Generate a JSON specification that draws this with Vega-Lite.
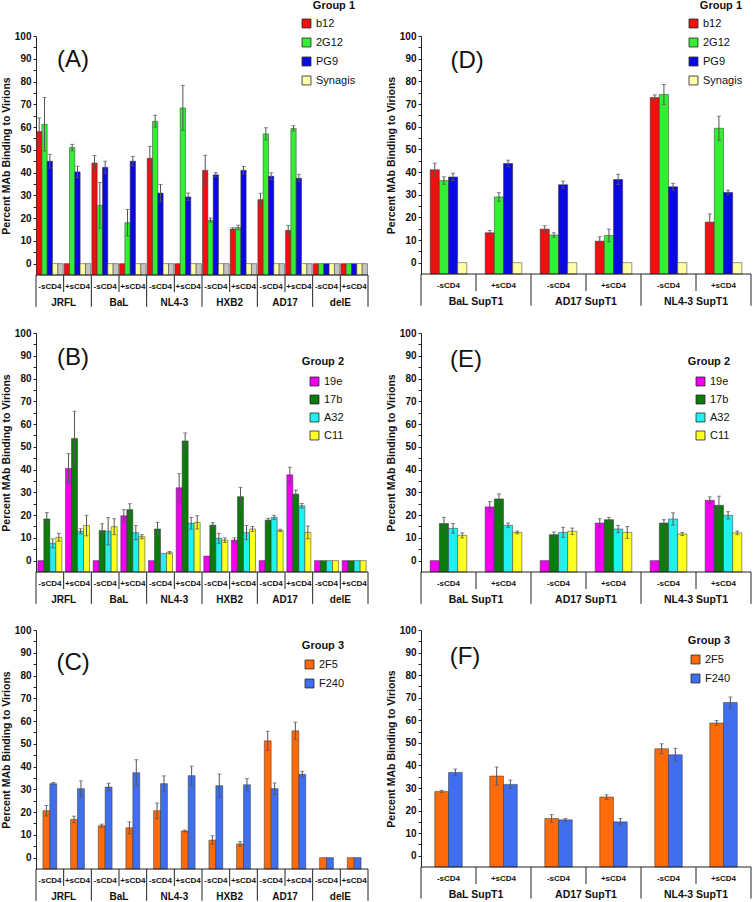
{
"$schema":"https://vega.github.io/schema/vega-lite/v6.json",
"padding":{"left":1,"top":0,"right":0,"bottom":0},
"config":{"font":"Liberation Sans","view":{"stroke":null},
 "axisY":{"grid":false,"tickSize":3,"tickColor":"#222","domainColor":"#222","labelFontWeight":"bold","labelFontSize":10,"labelColor":"#111","labelOverlap":false,"titleFontSize":10.5,"titleFontWeight":"bold","titleColor":"#111","titlePadding":3,"labelPadding":2},
 "legend":{"titleFontSize":11,"titleFontWeight":"bold","titleColor":"#111","labelFontSize":11,"labelColor":"#111","symbolType":"square","symbolSize":80,"symbolStrokeColor":"#222","symbolStrokeWidth":0.8,"labelOffset":4,"padding":0,"titleAnchor":"end"}
},
"datasets":{
"L":[{"k":"JRFL/-sCD4","s":"JRFL","c":"-sCD4"},{"k":"JRFL/+sCD4","s":"JRFL","c":"+sCD4"},{"k":"BaL/-sCD4","s":"BaL","c":"-sCD4"},{"k":"BaL/+sCD4","s":"BaL","c":"+sCD4"},{"k":"NL4-3/-sCD4","s":"NL4-3","c":"-sCD4"},{"k":"NL4-3/+sCD4","s":"NL4-3","c":"+sCD4"},{"k":"HXB2/-sCD4","s":"HXB2","c":"-sCD4"},{"k":"HXB2/+sCD4","s":"HXB2","c":"+sCD4"},{"k":"AD17/-sCD4","s":"AD17","c":"-sCD4"},{"k":"AD17/+sCD4","s":"AD17","c":"+sCD4"},{"k":"delE/-sCD4","s":"delE","c":"-sCD4"},{"k":"delE/+sCD4","s":"delE","c":"+sCD4"}],
"R":[{"k":"BaL SupT1/-sCD4","s":"BaL SupT1","c":"-sCD4"},{"k":"BaL SupT1/+sCD4","s":"BaL SupT1","c":"+sCD4"},{"k":"AD17 SupT1/-sCD4","s":"AD17 SupT1","c":"-sCD4"},{"k":"AD17 SupT1/+sCD4","s":"AD17 SupT1","c":"+sCD4"},{"k":"NL4-3 SupT1/-sCD4","s":"NL4-3 SupT1","c":"-sCD4"},{"k":"NL4-3 SupT1/+sCD4","s":"NL4-3 SupT1","c":"+sCD4"}],
"A":[
{"k":"JRFL/-sCD4","ab":"b12","v":58,"lo":52,"hi":64},{"k":"JRFL/-sCD4","ab":"2G12","v":61.2,"lo":49.5,"hi":73},{"k":"JRFL/-sCD4","ab":"PG9","v":45,"lo":42,"hi":48},{"k":"JRFL/-sCD4","ab":"Synagis","v":0},{"k":"JRFL/-sCD4","ab":"ctrl","v":0},
{"k":"JRFL/+sCD4","ab":"b12","v":0},{"k":"JRFL/+sCD4","ab":"2G12","v":51,"lo":49.6,"hi":52.4},{"k":"JRFL/+sCD4","ab":"PG9","v":40.3,"lo":37.8,"hi":42.8},{"k":"JRFL/+sCD4","ab":"Synagis","v":0},{"k":"JRFL/+sCD4","ab":"ctrl","v":0},
{"k":"BaL/-sCD4","ab":"b12","v":44.2,"lo":41,"hi":47.5},{"k":"BaL/-sCD4","ab":"2G12","v":25.6,"lo":15.6,"hi":35.6},{"k":"BaL/-sCD4","ab":"PG9","v":42.3,"lo":39.6,"hi":45},{"k":"BaL/-sCD4","ab":"Synagis","v":0},{"k":"BaL/-sCD4","ab":"ctrl","v":0},
{"k":"BaL/+sCD4","ab":"b12","v":0},{"k":"BaL/+sCD4","ab":"2G12","v":18,"lo":12.2,"hi":23.8},{"k":"BaL/+sCD4","ab":"PG9","v":45,"lo":43,"hi":47.1},{"k":"BaL/+sCD4","ab":"Synagis","v":0},{"k":"BaL/+sCD4","ab":"ctrl","v":0},
{"k":"NL4-3/-sCD4","ab":"b12","v":46.3,"lo":41,"hi":51.5},{"k":"NL4-3/-sCD4","ab":"2G12","v":62.5,"lo":60,"hi":65.2},{"k":"NL4-3/-sCD4","ab":"PG9","v":31,"lo":27.2,"hi":34.8},{"k":"NL4-3/-sCD4","ab":"Synagis","v":0},{"k":"NL4-3/-sCD4","ab":"ctrl","v":0},
{"k":"NL4-3/+sCD4","ab":"b12","v":0},{"k":"NL4-3/+sCD4","ab":"2G12","v":68.4,"lo":58.5,"hi":78.3},{"k":"NL4-3/+sCD4","ab":"PG9","v":29.3,"lo":27.8,"hi":31},{"k":"NL4-3/+sCD4","ab":"Synagis","v":0},{"k":"NL4-3/+sCD4","ab":"ctrl","v":0},
{"k":"HXB2/-sCD4","ab":"b12","v":41,"lo":34.5,"hi":47.6},{"k":"HXB2/-sCD4","ab":"2G12","v":19,"lo":18.2,"hi":20},{"k":"HXB2/-sCD4","ab":"PG9","v":39,"lo":38.1,"hi":40},{"k":"HXB2/-sCD4","ab":"Synagis","v":0},{"k":"HXB2/-sCD4","ab":"ctrl","v":0},
{"k":"HXB2/+sCD4","ab":"b12","v":15.2,"lo":14.8,"hi":15.8},{"k":"HXB2/+sCD4","ab":"2G12","v":15.8,"lo":14.8,"hi":16.9},{"k":"HXB2/+sCD4","ab":"PG9","v":41,"lo":39.3,"hi":42.7},{"k":"HXB2/+sCD4","ab":"Synagis","v":0},{"k":"HXB2/+sCD4","ab":"ctrl","v":0},
{"k":"AD17/-sCD4","ab":"b12","v":28.1,"lo":25.3,"hi":30.9},{"k":"AD17/-sCD4","ab":"2G12","v":57,"lo":54.3,"hi":59.7},{"k":"AD17/-sCD4","ab":"PG9","v":38.4,"lo":37,"hi":39.9},{"k":"AD17/-sCD4","ab":"Synagis","v":0},{"k":"AD17/-sCD4","ab":"ctrl","v":0},
{"k":"AD17/+sCD4","ab":"b12","v":14.6,"lo":12.4,"hi":16.8},{"k":"AD17/+sCD4","ab":"2G12","v":59.4,"lo":58.3,"hi":60.6},{"k":"AD17/+sCD4","ab":"PG9","v":37.5,"lo":36,"hi":39.2},{"k":"AD17/+sCD4","ab":"Synagis","v":0},{"k":"AD17/+sCD4","ab":"ctrl","v":0},
{"k":"delE/-sCD4","ab":"b12","v":0},{"k":"delE/-sCD4","ab":"2G12","v":0},{"k":"delE/-sCD4","ab":"PG9","v":0},{"k":"delE/-sCD4","ab":"Synagis","v":0},{"k":"delE/-sCD4","ab":"ctrl","v":0},
{"k":"delE/+sCD4","ab":"b12","v":0},{"k":"delE/+sCD4","ab":"2G12","v":0},{"k":"delE/+sCD4","ab":"PG9","v":0},{"k":"delE/+sCD4","ab":"Synagis","v":0},{"k":"delE/+sCD4","ab":"ctrl","v":0}],
"B":[
{"k":"JRFL/-sCD4","ab":"19e","v":0},{"k":"JRFL/-sCD4","ab":"17b","v":18.3,"lo":15.5,"hi":21.1},{"k":"JRFL/-sCD4","ab":"A32","v":7.6,"lo":5.6,"hi":9.6},{"k":"JRFL/-sCD4","ab":"C11","v":10.2,"lo":8.5,"hi":12},
{"k":"JRFL/+sCD4","ab":"19e","v":40.5,"lo":34,"hi":47},{"k":"JRFL/+sCD4","ab":"17b","v":53.7,"lo":41.8,"hi":65.6},{"k":"JRFL/+sCD4","ab":"A32","v":12.9,"lo":11.8,"hi":14},{"k":"JRFL/+sCD4","ab":"C11","v":15.4,"lo":10.9,"hi":19.9},
{"k":"BaL/-sCD4","ab":"19e","v":0},{"k":"BaL/-sCD4","ab":"17b","v":13.2,"lo":10.2,"hi":16.2},{"k":"BaL/-sCD4","ab":"A32","v":12.9,"lo":6.9,"hi":18.9},{"k":"BaL/-sCD4","ab":"C11","v":14.9,"lo":11.4,"hi":18.4},
{"k":"BaL/+sCD4","ab":"19e","v":19.7,"lo":17,"hi":22.4},{"k":"BaL/+sCD4","ab":"17b","v":22.4,"lo":19.8,"hi":25},{"k":"BaL/+sCD4","ab":"A32","v":12.3,"lo":9.2,"hi":15.4},{"k":"BaL/+sCD4","ab":"C11","v":10.5,"lo":9.6,"hi":11.4},
{"k":"NL4-3/-sCD4","ab":"19e","v":0},{"k":"NL4-3/-sCD4","ab":"17b","v":13.9,"lo":11,"hi":16.8},{"k":"NL4-3/-sCD4","ab":"A32","v":3.2},{"k":"NL4-3/-sCD4","ab":"C11","v":3.5,"lo":3,"hi":4},
{"k":"NL4-3/+sCD4","ab":"19e","v":32,"lo":25.8,"hi":38.2},{"k":"NL4-3/+sCD4","ab":"17b","v":52.6,"lo":49.1,"hi":56.1},{"k":"NL4-3/+sCD4","ab":"A32","v":16.4,"lo":13.8,"hi":19},{"k":"NL4-3/+sCD4","ab":"C11","v":16.8,"lo":13.9,"hi":19.7},
{"k":"HXB2/-sCD4","ab":"19e","v":2},{"k":"HXB2/-sCD4","ab":"17b","v":15.6,"lo":14.5,"hi":16.7},{"k":"HXB2/-sCD4","ab":"A32","v":9.8,"lo":7.6,"hi":12},{"k":"HXB2/-sCD4","ab":"C11","v":9,"lo":8,"hi":10},
{"k":"HXB2/+sCD4","ab":"19e","v":9,"lo":8,"hi":10},{"k":"HXB2/+sCD4","ab":"17b","v":28.1,"lo":24,"hi":32.2},{"k":"HXB2/+sCD4","ab":"A32","v":12.3,"lo":9.2,"hi":15.4},{"k":"HXB2/+sCD4","ab":"C11","v":13.9,"lo":12.8,"hi":15},
{"k":"AD17/-sCD4","ab":"19e","v":0},{"k":"AD17/-sCD4","ab":"17b","v":17.8,"lo":17,"hi":18.6},{"k":"AD17/-sCD4","ab":"A32","v":19,"lo":18.1,"hi":19.9},{"k":"AD17/-sCD4","ab":"C11","v":13.3,"lo":12.8,"hi":13.8},
{"k":"AD17/+sCD4","ab":"19e","v":37.7,"lo":34.4,"hi":41},{"k":"AD17/+sCD4","ab":"17b","v":29.2,"lo":27.5,"hi":31},{"k":"AD17/+sCD4","ab":"A32","v":24.1,"lo":23.1,"hi":25.1},{"k":"AD17/+sCD4","ab":"C11","v":12.4,"lo":9.6,"hi":15.2},
{"k":"delE/-sCD4","ab":"19e","v":0},{"k":"delE/-sCD4","ab":"17b","v":0},{"k":"delE/-sCD4","ab":"A32","v":0},{"k":"delE/-sCD4","ab":"C11","v":0},
{"k":"delE/+sCD4","ab":"19e","v":0},{"k":"delE/+sCD4","ab":"17b","v":0},{"k":"delE/+sCD4","ab":"A32","v":0},{"k":"delE/+sCD4","ab":"C11","v":0}],
"C":[
{"k":"JRFL/-sCD4","ab":"2F5","v":20.6,"lo":18.3,"hi":22.9},{"k":"JRFL/-sCD4","ab":"F240","v":32.5,"lo":32.1,"hi":33},
{"k":"JRFL/+sCD4","ab":"2F5","v":16.8,"lo":15.4,"hi":18.2},{"k":"JRFL/+sCD4","ab":"F240","v":30.3,"lo":27,"hi":33.7},
{"k":"BaL/-sCD4","ab":"2F5","v":14,"lo":13.3,"hi":14.7},{"k":"BaL/-sCD4","ab":"F240","v":31,"lo":29.4,"hi":32.7},
{"k":"BaL/+sCD4","ab":"2F5","v":13.1,"lo":10.5,"hi":15.7},{"k":"BaL/+sCD4","ab":"F240","v":37.3,"lo":31.6,"hi":43},
{"k":"NL4-3/-sCD4","ab":"2F5","v":20.6,"lo":17.1,"hi":24},{"k":"NL4-3/-sCD4","ab":"F240","v":32.5,"lo":29.1,"hi":35.9},
{"k":"NL4-3/+sCD4","ab":"2F5","v":11.7,"lo":11.3,"hi":12.1},{"k":"NL4-3/+sCD4","ab":"F240","v":36,"lo":31.8,"hi":40.2},
{"k":"HXB2/-sCD4","ab":"2F5","v":7.7,"lo":5.8,"hi":9.6},{"k":"HXB2/-sCD4","ab":"F240","v":31.6,"lo":26.5,"hi":36.7},
{"k":"HXB2/+sCD4","ab":"2F5","v":6,"lo":5,"hi":7},{"k":"HXB2/+sCD4","ab":"F240","v":32,"lo":29.3,"hi":34.7},
{"k":"AD17/-sCD4","ab":"2F5","v":51.3,"lo":47.1,"hi":55.5},{"k":"AD17/-sCD4","ab":"F240","v":30.3,"lo":27.8,"hi":32.8},
{"k":"AD17/+sCD4","ab":"2F5","v":55.7,"lo":51.9,"hi":59.5},{"k":"AD17/+sCD4","ab":"F240","v":36.6,"lo":35.3,"hi":37.9},
{"k":"delE/-sCD4","ab":"2F5","v":0},{"k":"delE/-sCD4","ab":"F240","v":0},
{"k":"delE/+sCD4","ab":"2F5","v":0},{"k":"delE/+sCD4","ab":"F240","v":0}],
"D":[
{"k":"BaL SupT1/-sCD4","ab":"b12","v":41,"lo":38.2,"hi":43.9},{"k":"BaL SupT1/-sCD4","ab":"2G12","v":36.2,"lo":34.6,"hi":37.9},{"k":"BaL SupT1/-sCD4","ab":"PG9","v":37.8,"lo":36.2,"hi":39.4},{"k":"BaL SupT1/-sCD4","ab":"Synagis","v":0},
{"k":"BaL SupT1/+sCD4","ab":"b12","v":13.2,"lo":12.2,"hi":14.2},{"k":"BaL SupT1/+sCD4","ab":"2G12","v":29,"lo":27.1,"hi":30.9},{"k":"BaL SupT1/+sCD4","ab":"PG9","v":43.8,"lo":42.4,"hi":45.2},{"k":"BaL SupT1/+sCD4","ab":"Synagis","v":0},
{"k":"AD17 SupT1/-sCD4","ab":"b12","v":14.8,"lo":13.3,"hi":16.3},{"k":"AD17 SupT1/-sCD4","ab":"2G12","v":12.2,"lo":11.2,"hi":13.2},{"k":"AD17 SupT1/-sCD4","ab":"PG9","v":34.4,"lo":32.8,"hi":36},{"k":"AD17 SupT1/-sCD4","ab":"Synagis","v":0},
{"k":"AD17 SupT1/+sCD4","ab":"b12","v":9.5,"lo":7.6,"hi":11.4},{"k":"AD17 SupT1/+sCD4","ab":"2G12","v":12,"lo":9.2,"hi":14.8},{"k":"AD17 SupT1/+sCD4","ab":"PG9","v":36.7,"lo":34.5,"hi":39},{"k":"AD17 SupT1/+sCD4","ab":"Synagis","v":0},
{"k":"NL4-3 SupT1/-sCD4","ab":"b12","v":72.9,"lo":71.8,"hi":74},{"k":"NL4-3 SupT1/-sCD4","ab":"2G12","v":74.2,"lo":69.8,"hi":78.6},{"k":"NL4-3 SupT1/-sCD4","ab":"PG9","v":33.5,"lo":32,"hi":35},{"k":"NL4-3 SupT1/-sCD4","ab":"Synagis","v":0},
{"k":"NL4-3 SupT1/+sCD4","ab":"b12","v":17.9,"lo":14.3,"hi":21.5},{"k":"NL4-3 SupT1/+sCD4","ab":"2G12","v":59.3,"lo":54,"hi":64.6},{"k":"NL4-3 SupT1/+sCD4","ab":"PG9","v":31,"lo":30,"hi":32},{"k":"NL4-3 SupT1/+sCD4","ab":"Synagis","v":0}],
"E":[
{"k":"BaL SupT1/-sCD4","ab":"19e","v":0},{"k":"BaL SupT1/-sCD4","ab":"17b","v":16.3,"lo":13.6,"hi":19},{"k":"BaL SupT1/-sCD4","ab":"A32","v":14.2,"lo":12.1,"hi":16.3},{"k":"BaL SupT1/-sCD4","ab":"C11","v":11.1,"lo":10,"hi":12.2},
{"k":"BaL SupT1/+sCD4","ab":"19e","v":23.6,"lo":21.3,"hi":25.9},{"k":"BaL SupT1/+sCD4","ab":"17b","v":27.1,"lo":24.9,"hi":29.3},{"k":"BaL SupT1/+sCD4","ab":"A32","v":15.5,"lo":14.5,"hi":16.5},{"k":"BaL SupT1/+sCD4","ab":"C11","v":12.4,"lo":11.8,"hi":13},
{"k":"AD17 SupT1/-sCD4","ab":"19e","v":0},{"k":"AD17 SupT1/-sCD4","ab":"17b","v":11.4,"lo":10.2,"hi":12.6},{"k":"AD17 SupT1/-sCD4","ab":"A32","v":12.4,"lo":10.2,"hi":14.6},{"k":"AD17 SupT1/-sCD4","ab":"C11","v":12.9,"lo":11.5,"hi":14.3},
{"k":"AD17 SupT1/+sCD4","ab":"19e","v":16.5,"lo":14.6,"hi":18.4},{"k":"AD17 SupT1/+sCD4","ab":"17b","v":18,"lo":17,"hi":19},{"k":"AD17 SupT1/+sCD4","ab":"A32","v":13.9,"lo":12.3,"hi":15.5},{"k":"AD17 SupT1/+sCD4","ab":"C11","v":12.4,"lo":9.8,"hi":15},
{"k":"NL4-3 SupT1/-sCD4","ab":"19e","v":0},{"k":"NL4-3 SupT1/-sCD4","ab":"17b","v":16.5,"lo":15,"hi":18},{"k":"NL4-3 SupT1/-sCD4","ab":"A32","v":18.3,"lo":15.6,"hi":21},{"k":"NL4-3 SupT1/-sCD4","ab":"C11","v":11.7,"lo":11,"hi":12.4},
{"k":"NL4-3 SupT1/+sCD4","ab":"19e","v":26.5,"lo":25,"hi":28},{"k":"NL4-3 SupT1/+sCD4","ab":"17b","v":24.3,"lo":20.3,"hi":28.3},{"k":"NL4-3 SupT1/+sCD4","ab":"A32","v":19.9,"lo":18.3,"hi":21.5},{"k":"NL4-3 SupT1/+sCD4","ab":"C11","v":12.2,"lo":11.4,"hi":13}],
"F":[
{"k":"BaL SupT1/-sCD4","ab":"2F5","v":28.5,"lo":28,"hi":29},{"k":"BaL SupT1/-sCD4","ab":"F240","v":36.9,"lo":35.4,"hi":38.4},
{"k":"BaL SupT1/+sCD4","ab":"2F5","v":35.3,"lo":31.3,"hi":39.3},{"k":"BaL SupT1/+sCD4","ab":"F240","v":31.6,"lo":29.8,"hi":33.5},
{"k":"AD17 SupT1/-sCD4","ab":"2F5","v":16.5,"lo":14.8,"hi":18.2},{"k":"AD17 SupT1/-sCD4","ab":"F240","v":15.9,"lo":15.3,"hi":16.5},
{"k":"AD17 SupT1/+sCD4","ab":"2F5","v":26,"lo":25,"hi":27},{"k":"AD17 SupT1/+sCD4","ab":"F240","v":15,"lo":13.6,"hi":16.5},
{"k":"NL4-3 SupT1/-sCD4","ab":"2F5","v":47.4,"lo":45.2,"hi":49.6},{"k":"NL4-3 SupT1/-sCD4","ab":"F240","v":44.7,"lo":41.7,"hi":47.6},
{"k":"NL4-3 SupT1/+sCD4","ab":"2F5","v":58.8,"lo":57.7,"hi":59.9},{"k":"NL4-3 SupT1/+sCD4","ab":"F240","v":67.9,"lo":65.5,"hi":70.3}]
},
"columns":2,
"spacing":{"row":58,"column":53},
"bounds":"flush",
"resolve":{"scale":{"x":"independent","y":"independent","xOffset":"independent","color":"independent"},"legend":{"color":"independent"}},
"concat":[
   {"width":332,"height":239,"layer":[
    {"data":{"name":"A"},"mark":{"type":"bar","stroke":"#333","strokeWidth":0.5},"encoding":{
     "x":{"field":"k","type":"nominal","scale":{"domain":["JRFL/-sCD4","JRFL/+sCD4","BaL/-sCD4","BaL/+sCD4","NL4-3/-sCD4","NL4-3/+sCD4","HXB2/-sCD4","HXB2/+sCD4","AD17/-sCD4","AD17/+sCD4","delE/-sCD4","delE/+sCD4"],"paddingInner":0,"paddingOuter":0},"axis":null},
     "xOffset":{"field":"ab","type":"nominal","scale":{"domain":["b12","2G12","PG9","Synagis","ctrl"],"paddingInner":0,"paddingOuter":0.1}},
     "y":{"field":"v","type":"quantitative","scale":{"domain":[-5,100],"nice":false,"zero":false},"axis":{"title":"Percent MAb Binding to Virions","values":[0,5,10,15,20,25,30,35,40,45,50,55,60,65,70,75,80,85,90,95,100],"labelExpr":"datum.value % 10 === 0 ? datum.label : ''","labelOverlap":false}},
     "y2":{"datum":-5},
     "color":{"field":"ab","type":"nominal","scale":{"domain":["b12","2G12","PG9","Synagis","ctrl"],"range":["#f01010","#33ee33","#0a0ae0","#ffffa8","#c4c4c4"]},"legend":{"title":"Group 1","values":["b12","2G12","PG9","Synagis"],"orient":"none","legendX":265,"legendY":-36,"titlePadding":7,"rowPadding":6}}}},
    {"data":{"name":"A"},"transform":[{"filter":"isValid(datum.hi)"}],"mark":{"type":"rule","color":"#555","strokeWidth":1},"encoding":{"x":{"field":"k","type":"nominal","axis":null},"xOffset":{"field":"ab","type":"nominal"},"y":{"field":"lo","type":"quantitative","axis":{"title":"Percent MAb Binding to Virions","values":[0,5,10,15,20,25,30,35,40,45,50,55,60,65,70,75,80,85,90,95,100],"labelExpr":"datum.value % 10 === 0 ? datum.label : ''","labelOverlap":false}},"y2":{"field":"hi"}}},
    {"data":{"name":"A"},"transform":[{"filter":"isValid(datum.hi)"}],"mark":{"type":"tick","color":"#555","thickness":1,"size":4},"encoding":{"x":{"field":"k","type":"nominal","axis":null},"xOffset":{"field":"ab","type":"nominal"},"y":{"field":"hi","type":"quantitative","axis":{"title":"Percent MAb Binding to Virions","values":[0,5,10,15,20,25,30,35,40,45,50,55,60,65,70,75,80,85,90,95,100],"labelExpr":"datum.value % 10 === 0 ? datum.label : ''","labelOverlap":false}}}},
    {"data":{"name":"A"},"transform":[{"filter":"isValid(datum.hi)"}],"mark":{"type":"tick","color":"#555","thickness":1,"size":4},"encoding":{"x":{"field":"k","type":"nominal","axis":null},"xOffset":{"field":"ab","type":"nominal"},"y":{"field":"lo","type":"quantitative","axis":{"title":"Percent MAb Binding to Virions","values":[0,5,10,15,20,25,30,35,40,45,50,55,60,65,70,75,80,85,90,95,100],"labelExpr":"datum.value % 10 === 0 ? datum.label : ''","labelOverlap":false}}}},
    {"data":{"name":"L"},"mark":{"type":"text","fontWeight":"bold","fontSize":8,"color":"#111"},"encoding":{"x":{"field":"k","type":"nominal","axis":null},"y":{"datum":-10.3,"axis":{"title":"Percent MAb Binding to Virions","values":[0,5,10,15,20,25,30,35,40,45,50,55,60,65,70,75,80,85,90,95,100],"labelExpr":"datum.value % 10 === 0 ? datum.label : ''","labelOverlap":false}},"text":{"field":"c"}}},
    {"data":{"name":"L"},"transform":[{"filter":"datum.c === '+sCD4'"}],"mark":{"type":"text","fontWeight":"bold","fontSize":10,"color":"#111"},"encoding":{"x":{"field":"k","type":"nominal","bandPosition":0,"axis":null},"y":{"datum":-17.3,"axis":{"title":"Percent MAb Binding to Virions","values":[0,5,10,15,20,25,30,35,40,45,50,55,60,65,70,75,80,85,90,95,100],"labelExpr":"datum.value % 10 === 0 ? datum.label : ''","labelOverlap":false}},"text":{"field":"s"}}},
    {"data":{"name":"L"},"transform":[{"filter":"datum.c === '+sCD4'"}],"mark":{"type":"rule","color":"#222"},"encoding":{"x":{"field":"k","type":"nominal","bandPosition":0,"axis":null},"y":{"datum":-5,"axis":{"title":"Percent MAb Binding to Virions","values":[0,5,10,15,20,25,30,35,40,45,50,55,60,65,70,75,80,85,90,95,100],"labelExpr":"datum.value % 10 === 0 ? datum.label : ''","labelOverlap":false}},"y2":{"datum":-12.5}}},
    {"data":{"name":"L"},"transform":[{"filter":"datum.c === '-sCD4'"}],"mark":{"type":"rule","color":"#222"},"encoding":{"x":{"field":"k","type":"nominal","bandPosition":0,"axis":null},"y":{"datum":-5,"axis":{"title":"Percent MAb Binding to Virions","values":[0,5,10,15,20,25,30,35,40,45,50,55,60,65,70,75,80,85,90,95,100],"labelExpr":"datum.value % 10 === 0 ? datum.label : ''","labelOverlap":false}},"y2":{"datum":-19}}},
    {"data":{"name":"L"},"transform":[{"filter":"datum.k === 'delE/+sCD4'"}],"mark":{"type":"rule","color":"#222"},"encoding":{"x":{"field":"k","type":"nominal","bandPosition":1,"axis":null},"y":{"datum":-5,"axis":{"title":"Percent MAb Binding to Virions","values":[0,5,10,15,20,25,30,35,40,45,50,55,60,65,70,75,80,85,90,95,100],"labelExpr":"datum.value % 10 === 0 ? datum.label : ''","labelOverlap":false}},"y2":{"datum":-19}}},
    {"data":{"name":"L"},"transform":[{"filter":"datum.k === 'delE/+sCD4'"}],"mark":{"type":"rule","color":"#222"},"encoding":{"y":{"datum":-5,"axis":{"title":"Percent MAb Binding to Virions","values":[0,5,10,15,20,25,30,35,40,45,50,55,60,65,70,75,80,85,90,95,100],"labelExpr":"datum.value % 10 === 0 ? datum.label : ''","labelOverlap":false}}}},
    {"data":{"values":[{"k":"JRFL/+sCD4","t":"(A)"}]},"mark":{"type":"text","fontSize":24,"color":"#111"},"encoding":{"x":{"field":"k","type":"nominal","bandPosition":0.34,"axis":null},"y":{"datum":89.5,"axis":{"title":"Percent MAb Binding to Virions","values":[0,5,10,15,20,25,30,35,40,45,50,55,60,65,70,75,80,85,90,95,100],"labelExpr":"datum.value % 10 === 0 ? datum.label : ''","labelOverlap":false}},"text":{"field":"t"}}}
   ]},
   {"width":330,"height":238,"layer":[
    {"data":{"name":"D"},"mark":{"type":"bar","stroke":"#333","strokeWidth":0.5},"encoding":{
     "x":{"field":"k","type":"nominal","scale":{"domain":["BaL SupT1/-sCD4","BaL SupT1/+sCD4","AD17 SupT1/-sCD4","AD17 SupT1/+sCD4","NL4-3 SupT1/-sCD4","NL4-3 SupT1/+sCD4"],"paddingInner":0,"paddingOuter":0},"axis":null},
     "xOffset":{"field":"ab","type":"nominal","scale":{"domain":["b12","2G12","PG9","Synagis"],"paddingInner":0,"paddingOuter":2.4}},
     "y":{"field":"v","type":"quantitative","scale":{"domain":[-5,100],"nice":false,"zero":false},"axis":{"title":"Percent MAb Binding to Virions","values":[0,5,10,15,20,25,30,35,40,45,50,55,60,65,70,75,80,85,90,95,100],"labelExpr":"datum.value % 10 === 0 ? datum.label : ''","labelOverlap":false}},
     "y2":{"datum":-5},
     "color":{"field":"ab","type":"nominal","scale":{"domain":["b12","2G12","PG9","Synagis"],"range":["#f01010","#33ee33","#0a0ae0","#ffffa8"]},"legend":{"title":"Group 1","orient":"none","legendX":267,"legendY":-36,"titlePadding":7,"rowPadding":6}}}},
    {"data":{"name":"D"},"transform":[{"filter":"isValid(datum.hi)"}],"mark":{"type":"rule","color":"#555","strokeWidth":1},"encoding":{"x":{"field":"k","type":"nominal","axis":null},"xOffset":{"field":"ab","type":"nominal"},"y":{"field":"lo","type":"quantitative","axis":{"title":"Percent MAb Binding to Virions","values":[0,5,10,15,20,25,30,35,40,45,50,55,60,65,70,75,80,85,90,95,100],"labelExpr":"datum.value % 10 === 0 ? datum.label : ''","labelOverlap":false}},"y2":{"field":"hi"}}},
    {"data":{"name":"D"},"transform":[{"filter":"isValid(datum.hi)"}],"mark":{"type":"tick","color":"#555","thickness":1,"size":4},"encoding":{"x":{"field":"k","type":"nominal","axis":null},"xOffset":{"field":"ab","type":"nominal"},"y":{"field":"hi","type":"quantitative","axis":{"title":"Percent MAb Binding to Virions","values":[0,5,10,15,20,25,30,35,40,45,50,55,60,65,70,75,80,85,90,95,100],"labelExpr":"datum.value % 10 === 0 ? datum.label : ''","labelOverlap":false}}}},
    {"data":{"name":"D"},"transform":[{"filter":"isValid(datum.hi)"}],"mark":{"type":"tick","color":"#555","thickness":1,"size":4},"encoding":{"x":{"field":"k","type":"nominal","axis":null},"xOffset":{"field":"ab","type":"nominal"},"y":{"field":"lo","type":"quantitative","axis":{"title":"Percent MAb Binding to Virions","values":[0,5,10,15,20,25,30,35,40,45,50,55,60,65,70,75,80,85,90,95,100],"labelExpr":"datum.value % 10 === 0 ? datum.label : ''","labelOverlap":false}}}},
    {"data":{"name":"R"},"mark":{"type":"text","fontWeight":"bold","fontSize":8,"color":"#111"},"encoding":{"x":{"field":"k","type":"nominal","axis":null},"y":{"datum":-10.3,"axis":{"title":"Percent MAb Binding to Virions","values":[0,5,10,15,20,25,30,35,40,45,50,55,60,65,70,75,80,85,90,95,100],"labelExpr":"datum.value % 10 === 0 ? datum.label : ''","labelOverlap":false}},"text":{"field":"c"}}},
    {"data":{"name":"R"},"transform":[{"filter":"datum.c === '+sCD4'"}],"mark":{"type":"text","fontWeight":"bold","fontSize":10.5,"color":"#111"},"encoding":{"x":{"field":"k","type":"nominal","bandPosition":0,"axis":null},"y":{"datum":-17.3,"axis":{"title":"Percent MAb Binding to Virions","values":[0,5,10,15,20,25,30,35,40,45,50,55,60,65,70,75,80,85,90,95,100],"labelExpr":"datum.value % 10 === 0 ? datum.label : ''","labelOverlap":false}},"text":{"field":"s"}}},
    {"data":{"name":"R"},"transform":[{"filter":"datum.c === '+sCD4'"}],"mark":{"type":"rule","color":"#222"},"encoding":{"x":{"field":"k","type":"nominal","bandPosition":0,"axis":null},"y":{"datum":-5,"axis":{"title":"Percent MAb Binding to Virions","values":[0,5,10,15,20,25,30,35,40,45,50,55,60,65,70,75,80,85,90,95,100],"labelExpr":"datum.value % 10 === 0 ? datum.label : ''","labelOverlap":false}},"y2":{"datum":-12.5}}},
    {"data":{"name":"R"},"transform":[{"filter":"datum.c === '-sCD4'"}],"mark":{"type":"rule","color":"#222"},"encoding":{"x":{"field":"k","type":"nominal","bandPosition":0,"axis":null},"y":{"datum":-5,"axis":{"title":"Percent MAb Binding to Virions","values":[0,5,10,15,20,25,30,35,40,45,50,55,60,65,70,75,80,85,90,95,100],"labelExpr":"datum.value % 10 === 0 ? datum.label : ''","labelOverlap":false}},"y2":{"datum":-19}}},
    {"data":{"name":"R"},"transform":[{"filter":"datum.k === 'NL4-3 SupT1/+sCD4'"}],"mark":{"type":"rule","color":"#222"},"encoding":{"x":{"field":"k","type":"nominal","bandPosition":1,"axis":null},"y":{"datum":-5,"axis":{"title":"Percent MAb Binding to Virions","values":[0,5,10,15,20,25,30,35,40,45,50,55,60,65,70,75,80,85,90,95,100],"labelExpr":"datum.value % 10 === 0 ? datum.label : ''","labelOverlap":false}},"y2":{"datum":-19}}},
    {"data":{"name":"R"},"transform":[{"filter":"datum.k === 'NL4-3 SupT1/+sCD4'"}],"mark":{"type":"rule","color":"#222"},"encoding":{"y":{"datum":-5,"axis":{"title":"Percent MAb Binding to Virions","values":[0,5,10,15,20,25,30,35,40,45,50,55,60,65,70,75,80,85,90,95,100],"labelExpr":"datum.value % 10 === 0 ? datum.label : ''","labelOverlap":false}}}},
    {"data":{"values":[{"k":"BaL SupT1/-sCD4","t":"(D)"}]},"mark":{"type":"text","fontSize":24,"color":"#111"},"encoding":{"x":{"field":"k","type":"nominal","bandPosition":0.84,"axis":null},"y":{"datum":89,"axis":{"title":"Percent MAb Binding to Virions","values":[0,5,10,15,20,25,30,35,40,45,50,55,60,65,70,75,80,85,90,95,100],"labelExpr":"datum.value % 10 === 0 ? datum.label : ''","labelOverlap":false}},"text":{"field":"t"}}}
   ]},
   {"width":332,"height":239,"layer":[
    {"data":{"name":"B"},"mark":{"type":"bar","stroke":"#333","strokeWidth":0.5},"encoding":{
     "x":{"field":"k","type":"nominal","scale":{"domain":["JRFL/-sCD4","JRFL/+sCD4","BaL/-sCD4","BaL/+sCD4","NL4-3/-sCD4","NL4-3/+sCD4","HXB2/-sCD4","HXB2/+sCD4","AD17/-sCD4","AD17/+sCD4","delE/-sCD4","delE/+sCD4"],"paddingInner":0,"paddingOuter":0},"axis":null},
     "xOffset":{"field":"ab","type":"nominal","scale":{"domain":["19e","17b","A32","C11"],"paddingInner":0,"paddingOuter":0.3}},
     "y":{"field":"v","type":"quantitative","scale":{"domain":[-5,100],"nice":false,"zero":false},"axis":{"title":"Percent MAb Binding to Virions","values":[0,5,10,15,20,25,30,35,40,45,50,55,60,65,70,75,80,85,90,95,100],"labelExpr":"datum.value % 10 === 0 ? datum.label : ''","labelOverlap":false}},
     "y2":{"datum":-5},
     "color":{"field":"ab","type":"nominal","scale":{"domain":["19e","17b","A32","C11"],"range":["#f000f0","#0d7a0d","#22f0f0","#ffff20"]},"legend":{"title":"Group 2","orient":"none","legendX":266,"legendY":23,"titlePadding":9,"rowPadding":5}}}},
    {"data":{"name":"B"},"transform":[{"filter":"isValid(datum.hi)"}],"mark":{"type":"rule","color":"#555","strokeWidth":1},"encoding":{"x":{"field":"k","type":"nominal","axis":null},"xOffset":{"field":"ab","type":"nominal"},"y":{"field":"lo","type":"quantitative","axis":{"title":"Percent MAb Binding to Virions","values":[0,5,10,15,20,25,30,35,40,45,50,55,60,65,70,75,80,85,90,95,100],"labelExpr":"datum.value % 10 === 0 ? datum.label : ''","labelOverlap":false}},"y2":{"field":"hi"}}},
    {"data":{"name":"B"},"transform":[{"filter":"isValid(datum.hi)"}],"mark":{"type":"tick","color":"#555","thickness":1,"size":4},"encoding":{"x":{"field":"k","type":"nominal","axis":null},"xOffset":{"field":"ab","type":"nominal"},"y":{"field":"hi","type":"quantitative","axis":{"title":"Percent MAb Binding to Virions","values":[0,5,10,15,20,25,30,35,40,45,50,55,60,65,70,75,80,85,90,95,100],"labelExpr":"datum.value % 10 === 0 ? datum.label : ''","labelOverlap":false}}}},
    {"data":{"name":"B"},"transform":[{"filter":"isValid(datum.hi)"}],"mark":{"type":"tick","color":"#555","thickness":1,"size":4},"encoding":{"x":{"field":"k","type":"nominal","axis":null},"xOffset":{"field":"ab","type":"nominal"},"y":{"field":"lo","type":"quantitative","axis":{"title":"Percent MAb Binding to Virions","values":[0,5,10,15,20,25,30,35,40,45,50,55,60,65,70,75,80,85,90,95,100],"labelExpr":"datum.value % 10 === 0 ? datum.label : ''","labelOverlap":false}}}},
    {"data":{"name":"L"},"mark":{"type":"text","fontWeight":"bold","fontSize":8,"color":"#111"},"encoding":{"x":{"field":"k","type":"nominal","axis":null},"y":{"datum":-10.3,"axis":{"title":"Percent MAb Binding to Virions","values":[0,5,10,15,20,25,30,35,40,45,50,55,60,65,70,75,80,85,90,95,100],"labelExpr":"datum.value % 10 === 0 ? datum.label : ''","labelOverlap":false}},"text":{"field":"c"}}},
    {"data":{"name":"L"},"transform":[{"filter":"datum.c === '+sCD4'"}],"mark":{"type":"text","fontWeight":"bold","fontSize":10,"color":"#111"},"encoding":{"x":{"field":"k","type":"nominal","bandPosition":0,"axis":null},"y":{"datum":-17.3,"axis":{"title":"Percent MAb Binding to Virions","values":[0,5,10,15,20,25,30,35,40,45,50,55,60,65,70,75,80,85,90,95,100],"labelExpr":"datum.value % 10 === 0 ? datum.label : ''","labelOverlap":false}},"text":{"field":"s"}}},
    {"data":{"name":"L"},"transform":[{"filter":"datum.c === '+sCD4'"}],"mark":{"type":"rule","color":"#222"},"encoding":{"x":{"field":"k","type":"nominal","bandPosition":0,"axis":null},"y":{"datum":-5,"axis":{"title":"Percent MAb Binding to Virions","values":[0,5,10,15,20,25,30,35,40,45,50,55,60,65,70,75,80,85,90,95,100],"labelExpr":"datum.value % 10 === 0 ? datum.label : ''","labelOverlap":false}},"y2":{"datum":-12.5}}},
    {"data":{"name":"L"},"transform":[{"filter":"datum.c === '-sCD4'"}],"mark":{"type":"rule","color":"#222"},"encoding":{"x":{"field":"k","type":"nominal","bandPosition":0,"axis":null},"y":{"datum":-5,"axis":{"title":"Percent MAb Binding to Virions","values":[0,5,10,15,20,25,30,35,40,45,50,55,60,65,70,75,80,85,90,95,100],"labelExpr":"datum.value % 10 === 0 ? datum.label : ''","labelOverlap":false}},"y2":{"datum":-19}}},
    {"data":{"name":"L"},"transform":[{"filter":"datum.k === 'delE/+sCD4'"}],"mark":{"type":"rule","color":"#222"},"encoding":{"x":{"field":"k","type":"nominal","bandPosition":1,"axis":null},"y":{"datum":-5,"axis":{"title":"Percent MAb Binding to Virions","values":[0,5,10,15,20,25,30,35,40,45,50,55,60,65,70,75,80,85,90,95,100],"labelExpr":"datum.value % 10 === 0 ? datum.label : ''","labelOverlap":false}},"y2":{"datum":-19}}},
    {"data":{"name":"L"},"transform":[{"filter":"datum.k === 'delE/+sCD4'"}],"mark":{"type":"rule","color":"#222"},"encoding":{"y":{"datum":-5,"axis":{"title":"Percent MAb Binding to Virions","values":[0,5,10,15,20,25,30,35,40,45,50,55,60,65,70,75,80,85,90,95,100],"labelExpr":"datum.value % 10 === 0 ? datum.label : ''","labelOverlap":false}}}},
    {"data":{"values":[{"k":"JRFL/+sCD4","t":"(B)"}]},"mark":{"type":"text","fontSize":24,"color":"#111"},"encoding":{"x":{"field":"k","type":"nominal","bandPosition":0.34,"axis":null},"y":{"datum":89,"axis":{"title":"Percent MAb Binding to Virions","values":[0,5,10,15,20,25,30,35,40,45,50,55,60,65,70,75,80,85,90,95,100],"labelExpr":"datum.value % 10 === 0 ? datum.label : ''","labelOverlap":false}},"text":{"field":"t"}}}
   ]},
   {"width":330,"height":239,"layer":[
    {"data":{"name":"E"},"mark":{"type":"bar","stroke":"#333","strokeWidth":0.5},"encoding":{
     "x":{"field":"k","type":"nominal","scale":{"domain":["BaL SupT1/-sCD4","BaL SupT1/+sCD4","AD17 SupT1/-sCD4","AD17 SupT1/+sCD4","NL4-3 SupT1/-sCD4","NL4-3 SupT1/+sCD4"],"paddingInner":0,"paddingOuter":0},"axis":null},
     "xOffset":{"field":"ab","type":"nominal","scale":{"domain":["19e","17b","A32","C11"],"paddingInner":0,"paddingOuter":2.6}},
     "y":{"field":"v","type":"quantitative","scale":{"domain":[-5,100],"nice":false,"zero":false},"axis":{"title":"Percent MAb Binding to Virions","values":[0,5,10,15,20,25,30,35,40,45,50,55,60,65,70,75,80,85,90,95,100],"labelExpr":"datum.value % 10 === 0 ? datum.label : ''","labelOverlap":false}},
     "y2":{"datum":-5},
     "color":{"field":"ab","type":"nominal","scale":{"domain":["19e","17b","A32","C11"],"range":["#f000f0","#0d7a0d","#22f0f0","#ffff20"]},"legend":{"title":"Group 2","orient":"none","legendX":267,"legendY":23,"titlePadding":9,"rowPadding":5}}}},
    {"data":{"name":"E"},"transform":[{"filter":"isValid(datum.hi)"}],"mark":{"type":"rule","color":"#555","strokeWidth":1},"encoding":{"x":{"field":"k","type":"nominal","axis":null},"xOffset":{"field":"ab","type":"nominal"},"y":{"field":"lo","type":"quantitative","axis":{"title":"Percent MAb Binding to Virions","values":[0,5,10,15,20,25,30,35,40,45,50,55,60,65,70,75,80,85,90,95,100],"labelExpr":"datum.value % 10 === 0 ? datum.label : ''","labelOverlap":false}},"y2":{"field":"hi"}}},
    {"data":{"name":"E"},"transform":[{"filter":"isValid(datum.hi)"}],"mark":{"type":"tick","color":"#555","thickness":1,"size":4},"encoding":{"x":{"field":"k","type":"nominal","axis":null},"xOffset":{"field":"ab","type":"nominal"},"y":{"field":"hi","type":"quantitative","axis":{"title":"Percent MAb Binding to Virions","values":[0,5,10,15,20,25,30,35,40,45,50,55,60,65,70,75,80,85,90,95,100],"labelExpr":"datum.value % 10 === 0 ? datum.label : ''","labelOverlap":false}}}},
    {"data":{"name":"E"},"transform":[{"filter":"isValid(datum.hi)"}],"mark":{"type":"tick","color":"#555","thickness":1,"size":4},"encoding":{"x":{"field":"k","type":"nominal","axis":null},"xOffset":{"field":"ab","type":"nominal"},"y":{"field":"lo","type":"quantitative","axis":{"title":"Percent MAb Binding to Virions","values":[0,5,10,15,20,25,30,35,40,45,50,55,60,65,70,75,80,85,90,95,100],"labelExpr":"datum.value % 10 === 0 ? datum.label : ''","labelOverlap":false}}}},
    {"data":{"name":"R"},"mark":{"type":"text","fontWeight":"bold","fontSize":8,"color":"#111"},"encoding":{"x":{"field":"k","type":"nominal","axis":null},"y":{"datum":-10.3,"axis":{"title":"Percent MAb Binding to Virions","values":[0,5,10,15,20,25,30,35,40,45,50,55,60,65,70,75,80,85,90,95,100],"labelExpr":"datum.value % 10 === 0 ? datum.label : ''","labelOverlap":false}},"text":{"field":"c"}}},
    {"data":{"name":"R"},"transform":[{"filter":"datum.c === '+sCD4'"}],"mark":{"type":"text","fontWeight":"bold","fontSize":10.5,"color":"#111"},"encoding":{"x":{"field":"k","type":"nominal","bandPosition":0,"axis":null},"y":{"datum":-17.3,"axis":{"title":"Percent MAb Binding to Virions","values":[0,5,10,15,20,25,30,35,40,45,50,55,60,65,70,75,80,85,90,95,100],"labelExpr":"datum.value % 10 === 0 ? datum.label : ''","labelOverlap":false}},"text":{"field":"s"}}},
    {"data":{"name":"R"},"transform":[{"filter":"datum.c === '+sCD4'"}],"mark":{"type":"rule","color":"#222"},"encoding":{"x":{"field":"k","type":"nominal","bandPosition":0,"axis":null},"y":{"datum":-5,"axis":{"title":"Percent MAb Binding to Virions","values":[0,5,10,15,20,25,30,35,40,45,50,55,60,65,70,75,80,85,90,95,100],"labelExpr":"datum.value % 10 === 0 ? datum.label : ''","labelOverlap":false}},"y2":{"datum":-12.5}}},
    {"data":{"name":"R"},"transform":[{"filter":"datum.c === '-sCD4'"}],"mark":{"type":"rule","color":"#222"},"encoding":{"x":{"field":"k","type":"nominal","bandPosition":0,"axis":null},"y":{"datum":-5,"axis":{"title":"Percent MAb Binding to Virions","values":[0,5,10,15,20,25,30,35,40,45,50,55,60,65,70,75,80,85,90,95,100],"labelExpr":"datum.value % 10 === 0 ? datum.label : ''","labelOverlap":false}},"y2":{"datum":-19}}},
    {"data":{"name":"R"},"transform":[{"filter":"datum.k === 'NL4-3 SupT1/+sCD4'"}],"mark":{"type":"rule","color":"#222"},"encoding":{"x":{"field":"k","type":"nominal","bandPosition":1,"axis":null},"y":{"datum":-5,"axis":{"title":"Percent MAb Binding to Virions","values":[0,5,10,15,20,25,30,35,40,45,50,55,60,65,70,75,80,85,90,95,100],"labelExpr":"datum.value % 10 === 0 ? datum.label : ''","labelOverlap":false}},"y2":{"datum":-19}}},
    {"data":{"name":"R"},"transform":[{"filter":"datum.k === 'NL4-3 SupT1/+sCD4'"}],"mark":{"type":"rule","color":"#222"},"encoding":{"y":{"datum":-5,"axis":{"title":"Percent MAb Binding to Virions","values":[0,5,10,15,20,25,30,35,40,45,50,55,60,65,70,75,80,85,90,95,100],"labelExpr":"datum.value % 10 === 0 ? datum.label : ''","labelOverlap":false}}}},
    {"data":{"values":[{"k":"BaL SupT1/-sCD4","t":"(E)"}]},"mark":{"type":"text","fontSize":24,"color":"#111"},"encoding":{"x":{"field":"k","type":"nominal","bandPosition":0.82,"axis":null},"y":{"datum":88,"axis":{"title":"Percent MAb Binding to Virions","values":[0,5,10,15,20,25,30,35,40,45,50,55,60,65,70,75,80,85,90,95,100],"labelExpr":"datum.value % 10 === 0 ? datum.label : ''","labelOverlap":false}},"text":{"field":"t"}}}
   ]},
   {"width":332,"height":239,"layer":[
    {"data":{"name":"C"},"mark":{"type":"bar","stroke":"#333","strokeWidth":0.5},"encoding":{
     "x":{"field":"k","type":"nominal","scale":{"domain":["JRFL/-sCD4","JRFL/+sCD4","BaL/-sCD4","BaL/+sCD4","NL4-3/-sCD4","NL4-3/+sCD4","HXB2/-sCD4","HXB2/+sCD4","AD17/-sCD4","AD17/+sCD4","delE/-sCD4","delE/+sCD4"],"paddingInner":0,"paddingOuter":0},"axis":null},
     "xOffset":{"field":"ab","type":"nominal","scale":{"domain":["2F5","F240"],"paddingInner":0,"paddingOuter":1.3}},
     "y":{"field":"v","type":"quantitative","scale":{"domain":[-5,100],"nice":false,"zero":false},"axis":{"title":"Percent MAb Binding to Virions","values":[0,5,10,15,20,25,30,35,40,45,50,55,60,65,70,75,80,85,90,95,100],"labelExpr":"datum.value % 10 === 0 ? datum.label : ''","labelOverlap":false}},
     "y2":{"datum":-5},
     "color":{"field":"ab","type":"nominal","scale":{"domain":["2F5","F240"],"range":["#ff6a0a","#3f6fee"]},"legend":{"title":"Group 3","orient":"none","legendX":266,"legendY":10,"titlePadding":8,"rowPadding":6}}}},
    {"data":{"name":"C"},"transform":[{"filter":"isValid(datum.hi)"}],"mark":{"type":"rule","color":"#555","strokeWidth":1},"encoding":{"x":{"field":"k","type":"nominal","axis":null},"xOffset":{"field":"ab","type":"nominal"},"y":{"field":"lo","type":"quantitative","axis":{"title":"Percent MAb Binding to Virions","values":[0,5,10,15,20,25,30,35,40,45,50,55,60,65,70,75,80,85,90,95,100],"labelExpr":"datum.value % 10 === 0 ? datum.label : ''","labelOverlap":false}},"y2":{"field":"hi"}}},
    {"data":{"name":"C"},"transform":[{"filter":"isValid(datum.hi)"}],"mark":{"type":"tick","color":"#555","thickness":1,"size":4},"encoding":{"x":{"field":"k","type":"nominal","axis":null},"xOffset":{"field":"ab","type":"nominal"},"y":{"field":"hi","type":"quantitative","axis":{"title":"Percent MAb Binding to Virions","values":[0,5,10,15,20,25,30,35,40,45,50,55,60,65,70,75,80,85,90,95,100],"labelExpr":"datum.value % 10 === 0 ? datum.label : ''","labelOverlap":false}}}},
    {"data":{"name":"C"},"transform":[{"filter":"isValid(datum.hi)"}],"mark":{"type":"tick","color":"#555","thickness":1,"size":4},"encoding":{"x":{"field":"k","type":"nominal","axis":null},"xOffset":{"field":"ab","type":"nominal"},"y":{"field":"lo","type":"quantitative","axis":{"title":"Percent MAb Binding to Virions","values":[0,5,10,15,20,25,30,35,40,45,50,55,60,65,70,75,80,85,90,95,100],"labelExpr":"datum.value % 10 === 0 ? datum.label : ''","labelOverlap":false}}}},
    {"data":{"name":"L"},"mark":{"type":"text","fontWeight":"bold","fontSize":8,"color":"#111"},"encoding":{"x":{"field":"k","type":"nominal","axis":null},"y":{"datum":-10.3,"axis":{"title":"Percent MAb Binding to Virions","values":[0,5,10,15,20,25,30,35,40,45,50,55,60,65,70,75,80,85,90,95,100],"labelExpr":"datum.value % 10 === 0 ? datum.label : ''","labelOverlap":false}},"text":{"field":"c"}}},
    {"data":{"name":"L"},"transform":[{"filter":"datum.c === '+sCD4'"}],"mark":{"type":"text","fontWeight":"bold","fontSize":10,"color":"#111"},"encoding":{"x":{"field":"k","type":"nominal","bandPosition":0,"axis":null},"y":{"datum":-17.3,"axis":{"title":"Percent MAb Binding to Virions","values":[0,5,10,15,20,25,30,35,40,45,50,55,60,65,70,75,80,85,90,95,100],"labelExpr":"datum.value % 10 === 0 ? datum.label : ''","labelOverlap":false}},"text":{"field":"s"}}},
    {"data":{"name":"L"},"transform":[{"filter":"datum.c === '+sCD4'"}],"mark":{"type":"rule","color":"#222"},"encoding":{"x":{"field":"k","type":"nominal","bandPosition":0,"axis":null},"y":{"datum":-5,"axis":{"title":"Percent MAb Binding to Virions","values":[0,5,10,15,20,25,30,35,40,45,50,55,60,65,70,75,80,85,90,95,100],"labelExpr":"datum.value % 10 === 0 ? datum.label : ''","labelOverlap":false}},"y2":{"datum":-12.5}}},
    {"data":{"name":"L"},"transform":[{"filter":"datum.c === '-sCD4'"}],"mark":{"type":"rule","color":"#222"},"encoding":{"x":{"field":"k","type":"nominal","bandPosition":0,"axis":null},"y":{"datum":-5,"axis":{"title":"Percent MAb Binding to Virions","values":[0,5,10,15,20,25,30,35,40,45,50,55,60,65,70,75,80,85,90,95,100],"labelExpr":"datum.value % 10 === 0 ? datum.label : ''","labelOverlap":false}},"y2":{"datum":-19}}},
    {"data":{"name":"L"},"transform":[{"filter":"datum.k === 'delE/+sCD4'"}],"mark":{"type":"rule","color":"#222"},"encoding":{"x":{"field":"k","type":"nominal","bandPosition":1,"axis":null},"y":{"datum":-5,"axis":{"title":"Percent MAb Binding to Virions","values":[0,5,10,15,20,25,30,35,40,45,50,55,60,65,70,75,80,85,90,95,100],"labelExpr":"datum.value % 10 === 0 ? datum.label : ''","labelOverlap":false}},"y2":{"datum":-19}}},
    {"data":{"name":"L"},"transform":[{"filter":"datum.k === 'delE/+sCD4'"}],"mark":{"type":"rule","color":"#222"},"encoding":{"y":{"datum":-5,"axis":{"title":"Percent MAb Binding to Virions","values":[0,5,10,15,20,25,30,35,40,45,50,55,60,65,70,75,80,85,90,95,100],"labelExpr":"datum.value % 10 === 0 ? datum.label : ''","labelOverlap":false}}}},
    {"data":{"values":[{"k":"JRFL/+sCD4","t":"(C)"}]},"mark":{"type":"text","fontSize":24,"color":"#111"},"encoding":{"x":{"field":"k","type":"nominal","bandPosition":0.34,"axis":null},"y":{"datum":85.5,"axis":{"title":"Percent MAb Binding to Virions","values":[0,5,10,15,20,25,30,35,40,45,50,55,60,65,70,75,80,85,90,95,100],"labelExpr":"datum.value % 10 === 0 ? datum.label : ''","labelOverlap":false}},"text":{"field":"t"}}}
   ]},
   {"width":330,"height":237,"layer":[
    {"data":{"name":"F"},"mark":{"type":"bar","stroke":"#333","strokeWidth":0.5},"encoding":{
     "x":{"field":"k","type":"nominal","scale":{"domain":["BaL SupT1/-sCD4","BaL SupT1/+sCD4","AD17 SupT1/-sCD4","AD17 SupT1/+sCD4","NL4-3 SupT1/-sCD4","NL4-3 SupT1/+sCD4"],"paddingInner":0,"paddingOuter":0},"axis":null},
     "xOffset":{"field":"ab","type":"nominal","scale":{"domain":["2F5","F240"],"paddingInner":0,"paddingOuter":3.6}},
     "y":{"field":"v","type":"quantitative","scale":{"domain":[-5,100],"nice":false,"zero":false},"axis":{"title":"Percent MAb Binding to Virions","values":[0,5,10,15,20,25,30,35,40,45,50,55,60,65,70,75,80,85,90,95,100],"labelExpr":"datum.value % 10 === 0 ? datum.label : ''","labelOverlap":false}},
     "y2":{"datum":-5},
     "color":{"field":"ab","type":"nominal","scale":{"domain":["2F5","F240"],"range":["#ff6a0a","#3f6fee"]},"legend":{"title":"Group 3","orient":"none","legendX":267,"legendY":5,"titlePadding":8,"rowPadding":6}}}},
    {"data":{"name":"F"},"transform":[{"filter":"isValid(datum.hi)"}],"mark":{"type":"rule","color":"#555","strokeWidth":1},"encoding":{"x":{"field":"k","type":"nominal","axis":null},"xOffset":{"field":"ab","type":"nominal"},"y":{"field":"lo","type":"quantitative","axis":{"title":"Percent MAb Binding to Virions","values":[0,5,10,15,20,25,30,35,40,45,50,55,60,65,70,75,80,85,90,95,100],"labelExpr":"datum.value % 10 === 0 ? datum.label : ''","labelOverlap":false}},"y2":{"field":"hi"}}},
    {"data":{"name":"F"},"transform":[{"filter":"isValid(datum.hi)"}],"mark":{"type":"tick","color":"#555","thickness":1,"size":4},"encoding":{"x":{"field":"k","type":"nominal","axis":null},"xOffset":{"field":"ab","type":"nominal"},"y":{"field":"hi","type":"quantitative","axis":{"title":"Percent MAb Binding to Virions","values":[0,5,10,15,20,25,30,35,40,45,50,55,60,65,70,75,80,85,90,95,100],"labelExpr":"datum.value % 10 === 0 ? datum.label : ''","labelOverlap":false}}}},
    {"data":{"name":"F"},"transform":[{"filter":"isValid(datum.hi)"}],"mark":{"type":"tick","color":"#555","thickness":1,"size":4},"encoding":{"x":{"field":"k","type":"nominal","axis":null},"xOffset":{"field":"ab","type":"nominal"},"y":{"field":"lo","type":"quantitative","axis":{"title":"Percent MAb Binding to Virions","values":[0,5,10,15,20,25,30,35,40,45,50,55,60,65,70,75,80,85,90,95,100],"labelExpr":"datum.value % 10 === 0 ? datum.label : ''","labelOverlap":false}}}},
    {"data":{"name":"R"},"mark":{"type":"text","fontWeight":"bold","fontSize":8,"color":"#111"},"encoding":{"x":{"field":"k","type":"nominal","axis":null},"y":{"datum":-10.3,"axis":{"title":"Percent MAb Binding to Virions","values":[0,5,10,15,20,25,30,35,40,45,50,55,60,65,70,75,80,85,90,95,100],"labelExpr":"datum.value % 10 === 0 ? datum.label : ''","labelOverlap":false}},"text":{"field":"c"}}},
    {"data":{"name":"R"},"transform":[{"filter":"datum.c === '+sCD4'"}],"mark":{"type":"text","fontWeight":"bold","fontSize":10.5,"color":"#111"},"encoding":{"x":{"field":"k","type":"nominal","bandPosition":0,"axis":null},"y":{"datum":-17.3,"axis":{"title":"Percent MAb Binding to Virions","values":[0,5,10,15,20,25,30,35,40,45,50,55,60,65,70,75,80,85,90,95,100],"labelExpr":"datum.value % 10 === 0 ? datum.label : ''","labelOverlap":false}},"text":{"field":"s"}}},
    {"data":{"name":"R"},"transform":[{"filter":"datum.c === '+sCD4'"}],"mark":{"type":"rule","color":"#222"},"encoding":{"x":{"field":"k","type":"nominal","bandPosition":0,"axis":null},"y":{"datum":-5,"axis":{"title":"Percent MAb Binding to Virions","values":[0,5,10,15,20,25,30,35,40,45,50,55,60,65,70,75,80,85,90,95,100],"labelExpr":"datum.value % 10 === 0 ? datum.label : ''","labelOverlap":false}},"y2":{"datum":-12.5}}},
    {"data":{"name":"R"},"transform":[{"filter":"datum.c === '-sCD4'"}],"mark":{"type":"rule","color":"#222"},"encoding":{"x":{"field":"k","type":"nominal","bandPosition":0,"axis":null},"y":{"datum":-5,"axis":{"title":"Percent MAb Binding to Virions","values":[0,5,10,15,20,25,30,35,40,45,50,55,60,65,70,75,80,85,90,95,100],"labelExpr":"datum.value % 10 === 0 ? datum.label : ''","labelOverlap":false}},"y2":{"datum":-19}}},
    {"data":{"name":"R"},"transform":[{"filter":"datum.k === 'NL4-3 SupT1/+sCD4'"}],"mark":{"type":"rule","color":"#222"},"encoding":{"x":{"field":"k","type":"nominal","bandPosition":1,"axis":null},"y":{"datum":-5,"axis":{"title":"Percent MAb Binding to Virions","values":[0,5,10,15,20,25,30,35,40,45,50,55,60,65,70,75,80,85,90,95,100],"labelExpr":"datum.value % 10 === 0 ? datum.label : ''","labelOverlap":false}},"y2":{"datum":-19}}},
    {"data":{"name":"R"},"transform":[{"filter":"datum.k === 'NL4-3 SupT1/+sCD4'"}],"mark":{"type":"rule","color":"#222"},"encoding":{"y":{"datum":-5,"axis":{"title":"Percent MAb Binding to Virions","values":[0,5,10,15,20,25,30,35,40,45,50,55,60,65,70,75,80,85,90,95,100],"labelExpr":"datum.value % 10 === 0 ? datum.label : ''","labelOverlap":false}}}},
    {"data":{"values":[{"k":"BaL SupT1/-sCD4","t":"(F)"}]},"mark":{"type":"text","fontSize":24,"color":"#111"},"encoding":{"x":{"field":"k","type":"nominal","bandPosition":0.8,"axis":null},"y":{"datum":88,"axis":{"title":"Percent MAb Binding to Virions","values":[0,5,10,15,20,25,30,35,40,45,50,55,60,65,70,75,80,85,90,95,100],"labelExpr":"datum.value % 10 === 0 ? datum.label : ''","labelOverlap":false}},"text":{"field":"t"}}}
   ]}
]
}
